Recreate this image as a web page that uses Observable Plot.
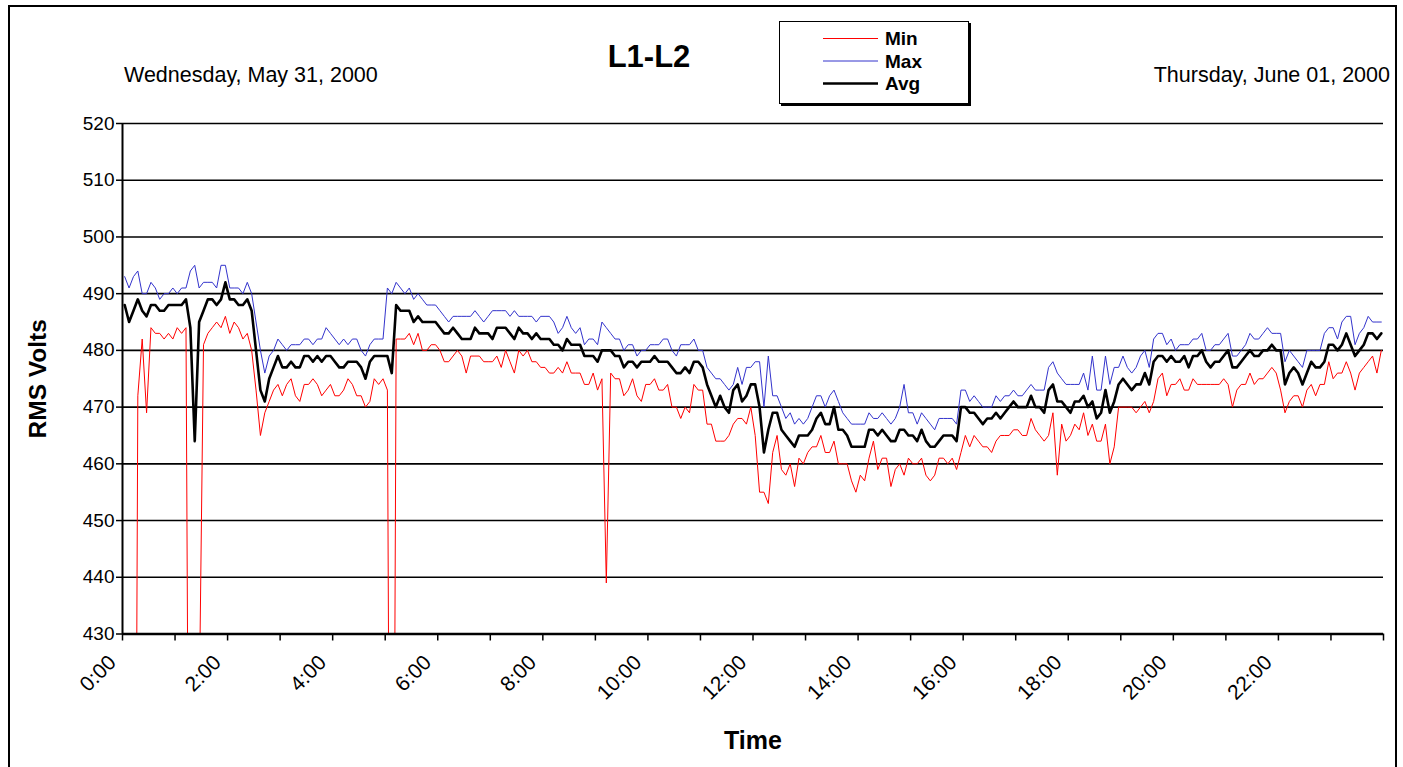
<!DOCTYPE html>
<html>
<head>
<meta charset="utf-8">
<script src="https://cdn.jsdelivr.net/npm/d3@7"></script>
<script src="https://cdn.jsdelivr.net/npm/@observablehq/plot@0.6"></script>
<style>
  html, body { margin: 0; padding: 0; background: #fff; overflow: hidden; }
  body { font-family: "Liberation Sans", Arial, sans-serif; color: #000; }
  #page { position: relative; width: 1403px; height: 767px; overflow: hidden; }
  #border { position: absolute; left: 8px; top: 5px; width: 1389px; height: 900px;
            border: 2px solid #000; box-sizing: border-box; pointer-events: none; }
  #header { position: relative; height: 110px; }
  #title { position: absolute; left: 549px; width: 200px; top: 40px; text-align: center;
           font-weight: bold; font-size: 31px; line-height: 34px; }
  .date { position: absolute; top: 62px; font-size: 21.5px; line-height: 26px; white-space: nowrap; }
  #dateLeft { left: 124px; }
  #dateRight { right: 13px; }
  #legend { position: absolute; left: 779px; top: 21px; width: 190px; height: 83px;
            border: 1.5px solid #000; box-sizing: border-box; box-shadow: 2px 2px 0 #000; background: #fff; }
  #legend svg { position: absolute; left: 0; top: 0; }
  #chart svg { display: block; }
</style>
</head>
<body>
<div id="page">
  <div id="border"></div>
  <div id="header">
    <div id="title">L1-L2</div>
    <div class="date" id="dateLeft"></div>
    <div class="date" id="dateRight"></div>
    <div id="legend"></div>
  </div>
  <div id="chart"></div>
</div>
<script>
// RMS line-to-line voltage L1-L2, one sample every 5 minutes over a day
const sampleMinutes = 5;

const minVolts = [
  300, 300, 290, 472, 482, 469, 484, 483, 483, 482, 483, 482, 484, 483, 484, 330, 380, 415, 481, 483, 484, 485, 484, 486, 483, 485, 484, 482, 483, 480, 473, 465,
  469, 471, 473, 474, 472, 474, 475, 472, 471, 474, 474, 475, 474, 472, 473, 474, 472, 472, 473, 475, 474, 472, 472, 470, 471, 475, 474, 475, 473, 300, 482, 482,
  482, 483, 481, 483, 480, 480, 481, 481, 480, 478, 478, 479, 480, 479, 476, 479, 479, 479, 478, 478, 478, 479, 477, 480, 478, 476, 480, 479, 480, 478, 478, 477,
  477, 476, 476, 477, 476, 478, 476, 476, 476, 474, 474, 476, 473, 475, 439, 476, 475, 475, 472, 473, 475, 472, 471, 474, 474, 475, 473, 473, 474, 470, 470, 468,
  470, 469, 474, 473, 473, 467, 467, 464, 464, 464, 465, 467, 468, 468, 467, 470, 465, 455, 455, 453, 462, 465, 459, 458, 460, 456, 461, 460, 462, 463, 463, 465,
  462, 462, 464, 460, 460, 460, 457, 455, 458, 457, 461, 464, 459, 461, 461, 456, 459, 460, 458, 461, 460, 460, 461, 458, 457, 458, 461, 461, 460, 461, 459, 462,
  465, 463, 465, 464, 463, 463, 462, 464, 465, 465, 465, 466, 466, 465, 465, 468, 466, 465, 464, 465, 469, 458, 467, 464, 465, 467, 466, 469, 465, 467, 464, 464,
  467, 460, 463, 470, 470, 470, 470, 469, 470, 471, 469, 471, 475, 476, 472, 474, 474, 475, 473, 473, 475, 474, 474, 474, 474, 474, 474, 475, 474, 470, 473, 474,
  474, 476, 474, 475, 475, 476, 477, 476, 473, 469, 471, 472, 472, 470, 473, 474, 472, 474, 474, 478, 475, 476, 476, 478, 476, 473, 476, 477, 478, 479, 476, 480
];

const maxVolts = [
  493, 491, 493, 494, 490, 490, 492, 491, 489, 490, 490, 491, 490, 491, 491, 494, 495, 491, 492, 492, 492, 491, 495, 495, 491, 491, 491, 490, 492, 490, 485, 480,
  476, 479, 480, 482, 481, 480, 481, 481, 481, 482, 482, 481, 482, 482, 484, 483, 482, 481, 482, 481, 482, 482, 480, 479, 481, 482, 482, 482, 491, 490, 492, 491,
  490, 491, 489, 490, 489, 488, 488, 488, 487, 486, 485, 486, 486, 486, 486, 486, 487, 486, 485, 486, 487, 487, 487, 487, 486, 487, 486, 486, 486, 486, 485, 486,
  486, 486, 485, 483, 484, 486, 484, 483, 484, 481, 482, 482, 481, 485, 484, 483, 482, 482, 480, 481, 481, 479, 480, 480, 481, 481, 481, 482, 482, 480, 479, 481,
  481, 481, 482, 480, 480, 477, 476, 475, 475, 474, 473, 474, 477, 474, 477, 477, 478, 478, 470, 479, 472, 472, 470, 468, 469, 467, 468, 467, 468, 470, 472, 472,
  470, 472, 473, 471, 469, 468, 467, 467, 467, 467, 469, 468, 468, 469, 468, 467, 468, 470, 474, 469, 469, 467, 469, 468, 467, 466, 468, 468, 468, 468, 467, 473,
  473, 471, 472, 471, 470, 470, 470, 472, 471, 472, 472, 473, 472, 472, 473, 474, 473, 473, 473, 477, 478, 476, 475, 474, 474, 474, 474, 476, 473, 479, 473, 473,
  479, 474, 477, 477, 479, 477, 476, 477, 479, 480, 477, 482, 483, 483, 481, 482, 480, 481, 481, 481, 482, 482, 483, 480, 480, 481, 481, 482, 483, 479, 479, 480,
  481, 483, 482, 482, 483, 484, 483, 483, 483, 478, 480, 479, 478, 477, 480, 480, 480, 480, 483, 484, 484, 482, 485, 486, 486, 481, 483, 484, 486, 485, 485, 485
];

const avgVolts = [
  488, 485, 487, 489, 487, 486, 488, 488, 487, 487, 488, 488, 488, 488, 489, 484, 464, 485, 487, 489, 489, 488, 489, 492, 489, 489, 488, 488, 489, 487, 480, 473,
  471, 475, 477, 479, 477, 477, 478, 477, 477, 479, 479, 478, 479, 478, 479, 479, 478, 477, 477, 478, 478, 478, 477, 475, 478, 479, 479, 479, 479, 476, 488, 487,
  487, 487, 485, 486, 485, 485, 485, 485, 484, 483, 483, 484, 483, 482, 482, 482, 484, 483, 483, 483, 482, 484, 484, 484, 483, 482, 484, 483, 483, 482, 483, 482,
  482, 482, 481, 481, 480, 482, 481, 481, 481, 479, 479, 479, 478, 480, 480, 480, 479, 479, 477, 478, 478, 477, 478, 478, 478, 479, 478, 478, 478, 477, 476, 476,
  477, 476, 478, 478, 477, 474, 472, 470, 472, 470, 469, 473, 474, 471, 472, 474, 474, 470, 462, 466, 469, 469, 466, 465, 464, 463, 465, 465, 465, 466, 468, 469,
  467, 467, 470, 466, 466, 465, 463, 463, 463, 463, 466, 466, 465, 466, 465, 464, 464, 466, 466, 465, 465, 464, 466, 464, 463, 463, 464, 465, 465, 465, 464, 470,
  470, 469, 469, 468, 467, 468, 468, 469, 468, 469, 470, 471, 470, 470, 470, 472, 470, 470, 469, 473, 474, 471, 471, 470, 469, 471, 471, 472, 470, 471, 468, 469,
  473, 469, 471, 474, 475, 474, 473, 474, 474, 476, 474, 478, 479, 479, 478, 479, 478, 478, 479, 477, 479, 479, 480, 478, 477, 478, 478, 479, 480, 477, 477, 478,
  479, 480, 479, 479, 480, 480, 481, 480, 480, 474, 476, 477, 476, 474, 476, 478, 477, 477, 478, 481, 481, 480, 481, 483, 481, 479, 480, 481, 483, 483, 482, 483
];

const seriesNames = ["Min", "Max", "Avg"];
const seriesColors = ["#ff0000", "#3333cc", "#000000"];
const seriesWidths = [1, 1, 2.6];

const voltTicks = [430, 440, 450, 460, 470, 480, 490, 500, 510, 520];
const hourLabels = ["0:00", "2:00", "4:00", "6:00", "8:00", "10:00", "12:00", "14:00", "16:00", "18:00", "20:00", "22:00"];
const dayLabels = ["Wednesday, May 31, 2000", "Thursday, June 01, 2000"];
const yTitle = "RMS Volts";
const xTitle = "Time";

document.getElementById("dateLeft").textContent = dayLabels[0];
document.getElementById("dateRight").textContent = dayLabels[1];

// legend: a short line sample and a bold name for each series
const legendSvg = d3.select("#legend").append("svg").attr("width", 187).attr("height", 80);
const legendRows = legendSvg.selectAll("g").data(seriesNames).join("g")
  .attr("transform", (d, k) => `translate(0, ${16.5 + k * 22.5})`);
legendRows.append("line")
  .attr("x1", 43).attr("x2", 98).attr("y1", 0).attr("y2", 0)
  .attr("stroke", (d, k) => seriesColors[k])
  .attr("stroke-width", (d, k) => seriesWidths[k]);
legendRows.append("text")
  .attr("x", 105).attr("y", 0).attr("dy", "0.36em")
  .attr("font-family", "'Liberation Sans', Arial, sans-serif")
  .attr("font-weight", "bold").attr("font-size", 19)
  .text((d) => d);

// each value is plotted at the middle of its 5-minute interval
const toRows = (values) => values.map((v, i) => ({t: i * sampleMinutes + sampleMinutes / 2, v}));
const seriesRows = [minVolts, maxVolts, avgVolts].map(toRows);

const hourTicks = d3.range(0, 24 * 60 + 1, 60);
const labelTicks = hourLabels.map((s) => +s.split(":")[0] * 60);
const labelFor = new Map(labelTicks.map((m, k) => [m, hourLabels[k]]));

const chart = Plot.plot({
  width: 1403,
  height: 657,
  marginLeft: 122,
  marginRight: 20,
  marginTop: 13,
  marginBottom: 133.5,
  style: {fontFamily: "'Liberation Sans', Arial, sans-serif", fontSize: "19px", color: "#000", background: "transparent"},
  x: {domain: [0, 24 * 60], axis: null},
  y: {domain: [430, 520], axis: null},
  marks: [
    Plot.gridY(voltTicks, {stroke: "#000", strokeOpacity: 1, strokeWidth: 1.6}),
    ...seriesRows.map((rows, k) =>
      Plot.line(rows, {x: "t", y: "v", stroke: seriesColors[k], strokeWidth: seriesWidths[k], clip: true})
    ),
    Plot.ruleX([0], {stroke: "#000", strokeWidth: 2}),
    Plot.ruleY([430], {stroke: "#000", strokeWidth: 2.5}),
    Plot.axisY(voltTicks, {anchor: "left", tickSize: 6, tickPadding: 2, strokeWidth: 1.5, fontSize: 19, label: null}),
    Plot.axisX(hourTicks, {anchor: "bottom", tickSize: 7, strokeWidth: 1.5, tickFormat: () => "", label: null}),
    Plot.axisX(labelTicks, {anchor: "bottom", tickSize: 0, tickPadding: 25, tickRotate: -45, dx: -10, fontSize: 21,
      tickFormat: (m) => labelFor.get(m), label: null}),
    Plot.text([yTitle], {frameAnchor: "left", dx: -84, rotate: -90, textAnchor: "middle", fontWeight: "bold", fontSize: 24.5}),
    Plot.text([xTitle], {x: 24 * 60 / 2, y: 430, dy: 107, fontWeight: "bold", fontSize: 25})
  ]
});
document.getElementById("chart").append(chart);
</script>
</body>
</html>
